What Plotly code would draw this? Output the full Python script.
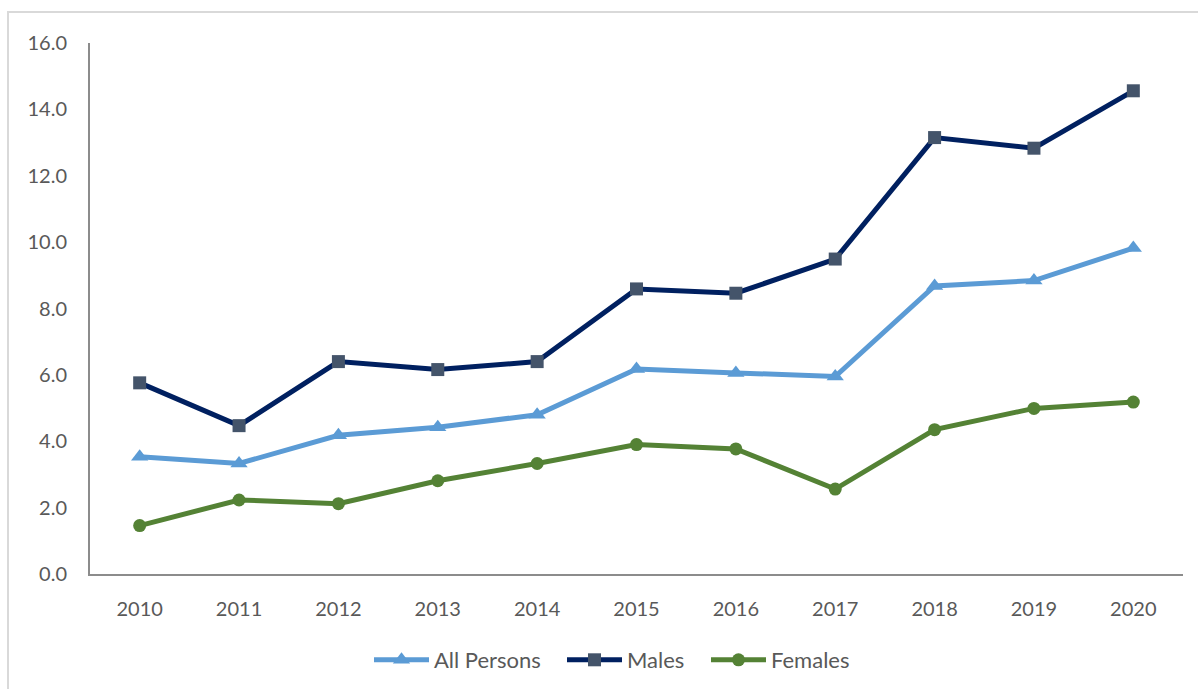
import plotly.graph_objects as go

years = ["2010", "2011", "2012", "2013", "2014", "2015", "2016", "2017", "2018", "2019", "2020"]
all_persons = [3.53, 3.33, 4.18, 4.42, 4.80, 6.18, 6.06, 5.95, 8.68, 8.84, 9.82]
males = [5.76, 4.47, 6.40, 6.16, 6.40, 8.59, 8.46, 9.49, 13.15, 12.83, 14.56]
females = [1.46, 2.23, 2.12, 2.81, 3.33, 3.90, 3.77, 2.56, 4.35, 4.99, 5.18]
y_ticks = [0, 2, 4, 6, 8, 10, 12, 14, 16]

W, H = 1198, 689
L, R, T, B = 90, 15, 43, 115
pw, ph = W - L - R, H - T - B

FONT = "Lato, 'Open Sans', sans-serif"
TXT = "#595959"


def px_x(p):
    return (p - L) / pw


def px_y(p):
    return (H - B - p) / ph


fig = go.Figure()
fig.add_trace(go.Scatter(
    x=years, y=all_persons, name="All Persons", mode="lines+markers",
    line=dict(color="#5B9BD5", width=5),
    marker=dict(symbol="triangle-up", size=15, color="#5B9BD5"),
    legend="legend",
))
fig.add_trace(go.Scatter(
    x=years, y=males, name="Males", mode="lines+markers",
    line=dict(color="#002060", width=5),
    marker=dict(symbol="square", size=13, color="#44546A"),
    legend="legend2",
))
fig.add_trace(go.Scatter(
    x=years, y=females, name="Females", mode="lines+markers",
    line=dict(color="#548235", width=5),
    marker=dict(symbol="circle", size=13, color="#548235"),
    legend="legend3",
))


def leg(xpix):
    return dict(
        orientation="h", x=px_x(xpix), xanchor="left",
        y=px_y(660), yanchor="middle",
        font=dict(family=FONT, size=22, color=TXT),
        itemwidth=55, bgcolor="rgba(0,0,0,0)",
    )


fig.update_layout(
    width=W, height=H,
    margin=dict(l=L, r=R, t=T, b=B, autoexpand=False),
    paper_bgcolor="white", plot_bgcolor="white",
    font=dict(family=FONT, size=20, color=TXT),
    showlegend=True,
    legend=leg(369),
    legend2=leg(562),
    legend3=leg(706),
    xaxis=dict(
        type="category", range=[-0.5, len(years) - 0.5],
        showgrid=False, zeroline=False,
        showline=True, linecolor="#8C8C8C", linewidth=2,
        ticks="", ticklabelstandoff=16,
        tickfont=dict(family=FONT, size=20, color=TXT),
    ),
    yaxis=dict(
        range=[0, 16], tickvals=y_ticks,
        ticktext=[f"{v:.1f}" for v in y_ticks],
        showgrid=False, zeroline=False,
        showline=True, linecolor="#8C8C8C", linewidth=2,
        ticks="", ticklabelstandoff=17,
        tickfont=dict(family=FONT, size=20, color=TXT),
    ),
    shapes=[dict(
        type="rect", xref="paper", yref="paper",
        x0=px_x(8), x1=px_x(W + 20), y0=px_y(H + 20), y1=px_y(12),
        line=dict(color="#D9D9D9", width=2), fillcolor="rgba(0,0,0,0)",
        layer="below",
    )],
)

fig.write_html(
    "out.html",
    config={"displayModeBar": False},
    post_script="document.body.style.margin='0';document.body.style.overflow='hidden';",
)
